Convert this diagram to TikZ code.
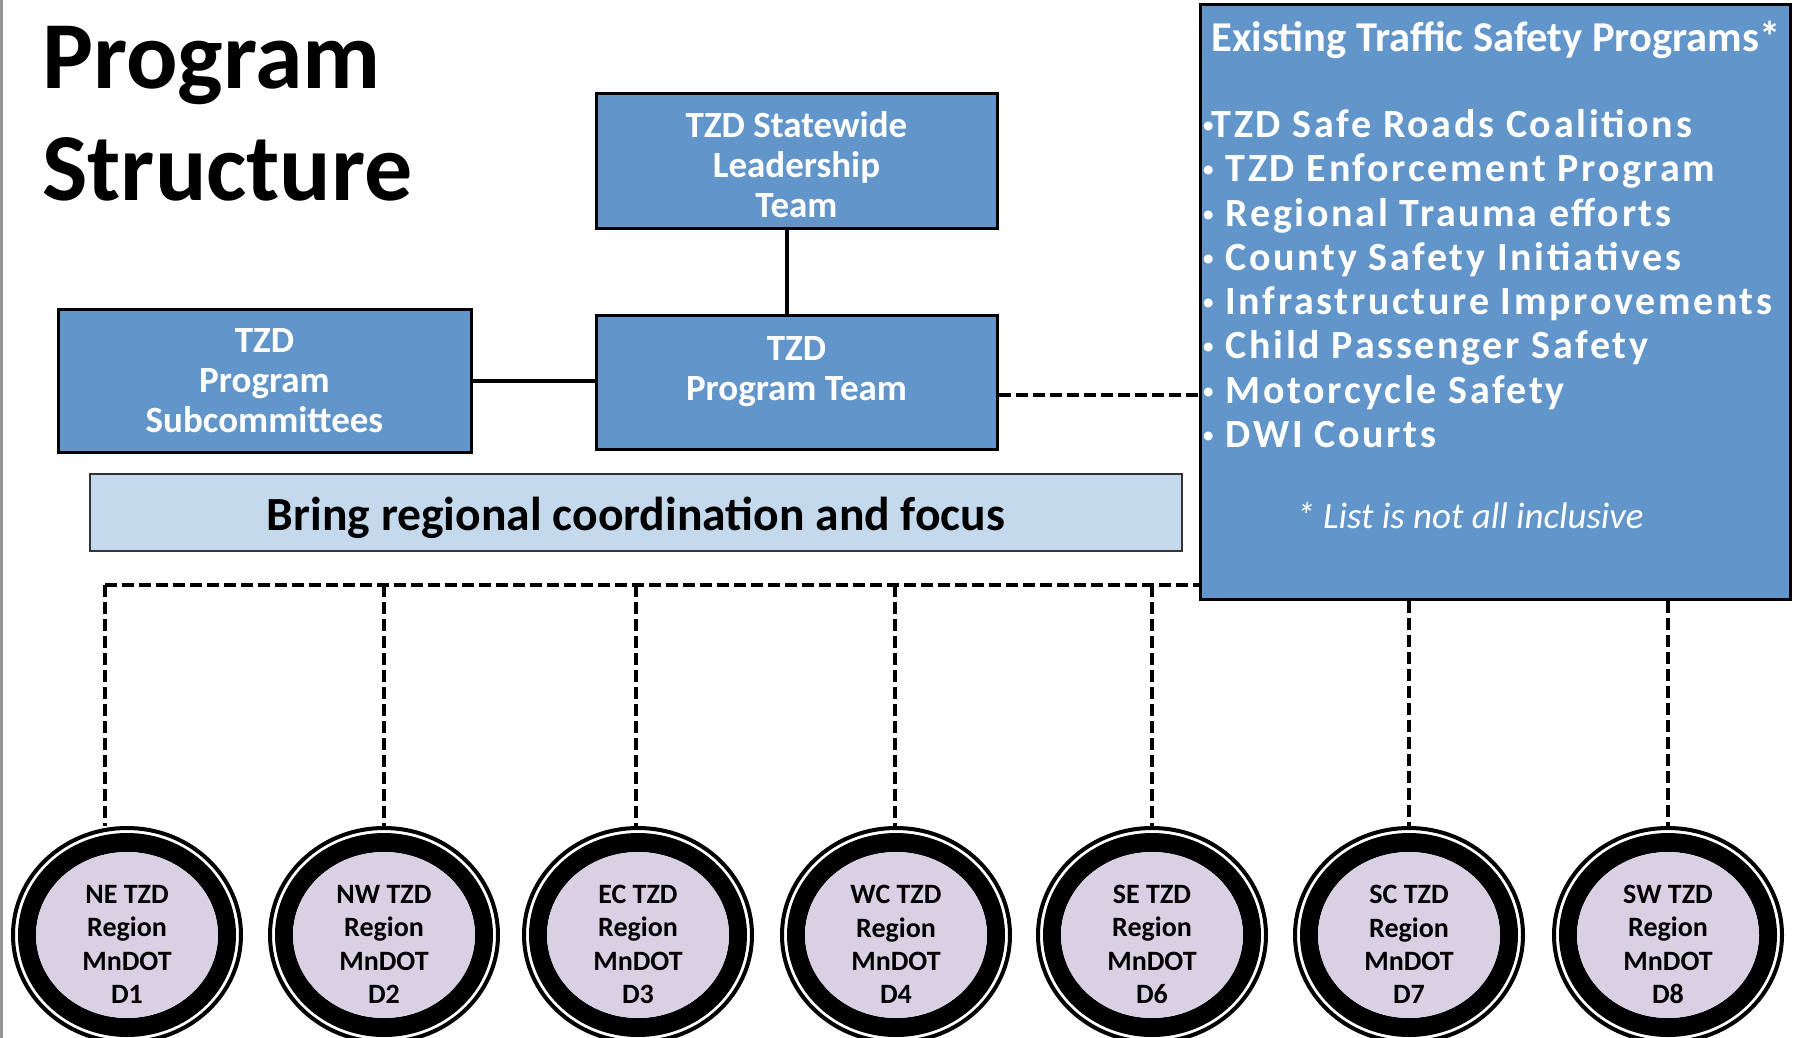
\documentclass[tikz,border=0pt]{standalone}
\usepackage{fontspec}
\setmainfont{Carlito}
\newfontfamily\spacedfont[LetterSpace=6.7]{Carlito}
\usetikzlibrary{shapes.geometric,calc}
\definecolor{boxblue}{RGB}{98,149,201}
\definecolor{lightblue}{RGB}{197,217,237}
\definecolor{regionfill}{RGB}{218,208,228}
\definecolor{edgegray}{RGB}{150,150,150}
\newcommand{\smallbul}{\raisebox{4pt}{\fontsize{25}{25}\selectfont\normalfont •}}
\begin{document}
\begin{tikzpicture}[x=1pt,y=-1pt,
  bluebox/.style={draw=black, line width=3pt, fill=boxblue, inner sep=0pt, text=white,
    font=\fontsize{37}{40}\selectfont\bfseries, align=center},
  boxtext/.style={text=white, font=\fontsize{37}{40}\selectfont\bfseries, align=center, inner sep=0pt},
  link/.style={line width=4pt},
  dashlink/.style={line width=4pt, dash pattern=on 12pt off 5pt},
  region/.style={ellipse, minimum width=232pt, minimum height=218pt, inner sep=0pt},
  regiontext/.style={font=\fontsize{28}{33.3}\selectfont\bfseries, align=center, inner sep=0pt},
  listitem/.style={anchor=base west, inner sep=0pt, text=white, font=\fontsize{40}{44}\spacedfont\bfseries},
]
\useasboundingbox (0,0) rectangle (1796,1038);
\fill[white] (0,0) rectangle (1796,1038);
\draw[edgegray, line width=2.5pt] (1.25,0) -- (1.25,1038);

% title
\node[anchor=base west, inner sep=0pt, font=\fontsize{96}{111}\selectfont\bfseries] (title1) at (42,89) {Program};
\node[anchor=base west, inner sep=0pt, font=\fontsize{96}{111}\selectfont\bfseries] (title2) at (42,200) {Structure};

% boxes
\node[bluebox, minimum width=401pt, minimum height=134pt] (lead) at (796.5,161) {};
\node[boxtext] (leadtext) at (796.5,164.7) {TZD Statewide\\Leadership\\Team};
\node[bluebox, minimum width=401pt, minimum height=134pt] (pteam) at (796.5,382) {};
\node[boxtext] (pteamtext) at (796.5,372) {TZD\\Program Team};
\node[bluebox, minimum width=413pt, minimum height=143pt] (sub) at (264.5,380.5) {};
\node[boxtext] (subtext) at (264.5,381) {TZD\\Program\\Subcommittees};

% coordination bar
\node[draw=black!80, line width=1.5pt, fill=lightblue, minimum width=1092pt, minimum height=77pt, inner sep=0pt] (bar) at (636,512.5) {};
\node[inner sep=0pt, font=\fontsize{47.6}{50}\selectfont\bfseries, anchor=base] (bartext) at (636,530) {Bring regional coordination and focus};

% right box
\node[draw=black, line width=3pt, fill=boxblue, minimum width=590pt, minimum height=594pt, inner sep=0pt] (rbox) at (1495,302) {};
\node[anchor=base, inner sep=0pt, text=white, font=\fontsize{42.5}{44}\selectfont\bfseries] (rtitle) at (1496,52) {Existing Traffic Safety Programs*};
\node[listitem] (li1) at (1202,137.4) {\smallbul\hspace{-3pt}TZD Safe Roads Coalitions};
\node[listitem] (li2) at (1202,181.7) {\smallbul\hspace{11pt}TZD Enforcement Program};
\node[listitem] (li3) at (1202,226) {\smallbul\hspace{11pt}Regional Trauma efforts};
\node[listitem] (li4) at (1202,270.3) {\smallbul\hspace{11pt}County Safety Initiatives};
\node[listitem] (li5) at (1202,314.6) {\smallbul\hspace{11pt}Infrastructure Improvements};
\node[listitem] (li6) at (1202,358.9) {\smallbul\hspace{11pt}Child Passenger Safety};
\node[listitem] (li7) at (1202,403.2) {\smallbul\hspace{11pt}Motorcycle Safety};
\node[listitem] (li8) at (1202,447.5) {\smallbul\hspace{11pt}DWI Courts};
\node[anchor=base, inner sep=0pt, text=white, font=\fontsize{37}{40}\selectfont\itshape] (rnote) at (1470,528) {* List is not all inclusive};

% solid connectors
\draw[link] (sub.east) -- (pteam.west |- sub.east);
\draw[link] ($(lead.south)+(-9.5,0)$) -- ($(pteam.north)+(-9.5,0)$);
% dashed connector to programs box
\coordinate (pdash) at ($(pteam.east)+(0,13)$);
\draw[dashlink] (pdash) -- (rbox.west |- pdash);

% regions
\foreach \n/\x/\lx/\a/\d in {1/127/105/NE/D1, 2/384/384/NW/D2, 3/638/636/EC/D3, 4/896/895/WC/D4, 5/1152/1152/SE/D6, 6/1409/1409/SC/D7, 7/1668/1668/SW/D8}{
  \node[region] (r\n) at (\x,935) {};
  \fill[black, even odd rule] (r\n.center) ellipse [x radius=116pt, y radius=109pt]
        (r\n.center) ellipse [x radius=112pt, y radius=105pt];
  \fill[black, even odd rule] (r\n.center) ellipse [x radius=109pt, y radius=102pt]
        (r\n.center) ellipse [x radius=91pt, y radius=83pt];
  \fill[regionfill] (r\n.center) ellipse [x radius=91pt, y radius=83pt];
  \node[regiontext] (t\n) at (\x,944.5) {\a{} TZD\\Region\\MnDOT\\\d};
  \coordinate (drop\n) at (\lx,585);
}
% dashed bus and drops
\draw[dashlink] (drop1) -- (rbox.west |- drop1);
\foreach \n in {1,...,5}{
  \draw[dashlink] (drop\n) -- (drop\n |- r\n.north);
}
\foreach \n in {6,7}{
  \draw[dashlink] (drop\n |- rbox.south) -- (drop\n |- r\n.north);
}
\end{tikzpicture}
\end{document}
